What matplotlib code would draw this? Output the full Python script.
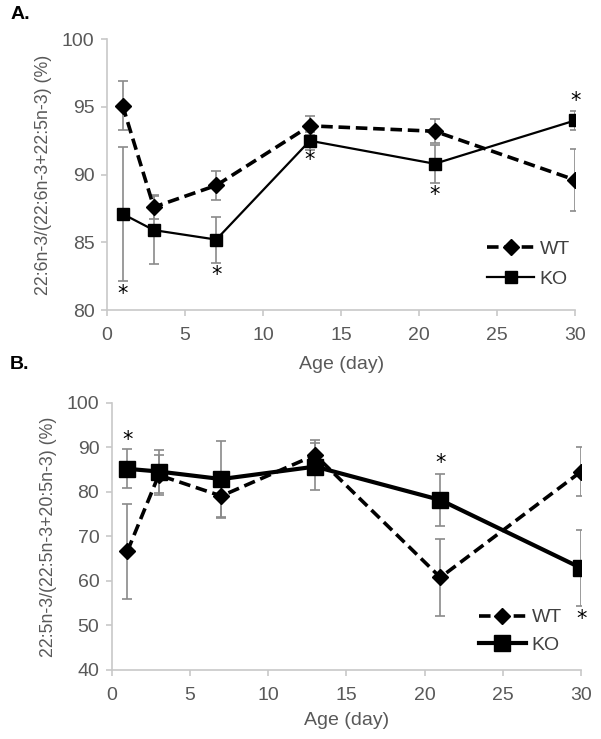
import numpy as np
import matplotlib.pyplot as plt

plt.rcParams['font.family'] = ['Liberation Sans', 'DejaVu Sans']

# Datos
days = [1, 3, 7, 13, 21, 30]

wt_a = [95.1, 87.6, 89.2, 93.6, 93.2, 89.6]
wt_a_err = [1.8, 0.9, 1.05, 0.7, 0.9, 2.3]
ko_a = [87.1, 85.9, 85.2, 92.5, 90.8, 94.0]
ko_a_err = [4.95, 2.5, 1.7, 0.65, 1.4, 0.7]
star_a_x = [1, 7, 13, 21, 30]
star_a_y = [81.2, 82.6, 91.1, 88.5, 95.4]

wt_b = [66.7, 83.8, 79.1, 88.3, 60.8, 84.6]
wt_b_err = [10.7, 4.5, 4.9, 3.4, 8.6, 5.4]
ko_b = [85.2, 84.6, 82.9, 85.7, 78.2, 62.9]
ko_b_err = [4.4, 4.8, 8.6, 5.2, 5.8, 8.6]
star_b_x = [1, 21, 30]
star_b_y = [91.7, 86.4, 51.4]

gris = '#595959'
eje = '#c8c8c8'
err_col = '#8a8a8a'

fig = plt.figure(figsize=(6.01, 7.39), dpi=100)
ax1 = fig.add_axes([0.178, 0.5805, 0.779, 0.3665])
ax2 = fig.add_axes([0.186, 0.0934, 0.781, 0.3613])


def estilo(ax, ylim, ystep, lpad):
    ax.set_xlim(0, 30)
    ax.set_ylim(*ylim)
    ax.set_xticks(np.arange(0, 31, 5))
    ax.set_yticks(np.arange(ylim[0], ylim[1] + 1, ystep))
    for s in ['top', 'right']:
        ax.spines[s].set_visible(False)
    for s in ['left', 'bottom']:
        ax.spines[s].set_color(eje)
        ax.spines[s].set_linewidth(1.2)
    ax.tick_params(colors=eje, labelcolor=gris, labelsize=14, length=4, width=1.2)
    ax.tick_params(axis='x', pad=8)
    ax.tick_params(axis='y', pad=5)
    ax.set_xlabel('Age (day)', fontsize=14, color=gris, labelpad=lpad)
    ax.patch.set_alpha(0)


# Panel A
wa = ax1.errorbar(days, wt_a, yerr=wt_a_err, color='black', ls=(0, (3.2, 1.6)), lw=2.6,
                  marker='D', ms=8, ecolor=err_col, elinewidth=1.2, capsize=3.5, capthick=1.2,
                  label='WT', zorder=3)
ka = ax1.errorbar(days, ko_a, yerr=ko_a_err, color='black', ls='-', lw=1.6,
                  marker='s', ms=8, ecolor=err_col, elinewidth=1.2, capsize=3.5, capthick=1.2,
                  label='KO', zorder=3)
for x, y in zip(star_a_x, star_a_y):
    ax1.text(x, y, '*', ha='center', va='center', fontsize=15, family='DejaVu Sans')
estilo(ax1, (80, 100), 5, 9)
ax1.set_ylabel('22:6n-3/(22:6n-3+22:5n-3) (%)', fontsize=12.8, color=gris, labelpad=7)
ax1.legend(handles=[wa[0], ka[0]], labels=['WT', 'KO'], loc='center left',
           bbox_to_anchor=(0.775, 0.17), frameon=False, fontsize=14,
           handlelength=2.4, handletextpad=0.3, labelspacing=0.65, labelcolor='#404040')

# Panel B
wb = ax2.errorbar(days, wt_b, yerr=wt_b_err, color='black', ls=(0, (3.2, 1.6)), lw=2.6,
                  marker='D', ms=8, ecolor=err_col, elinewidth=1.2, capsize=3.5, capthick=1.2,
                  label='WT', zorder=3)
kb = ax2.errorbar(days, ko_b, yerr=ko_b_err, color='black', ls='-', lw=3,
                  marker='s', ms=11, ecolor=err_col, elinewidth=1.2, capsize=3.5, capthick=1.2,
                  label='KO', zorder=3)
for x, y in zip(star_b_x, star_b_y):
    ax2.text(x, y, '*', ha='center', va='center', fontsize=15, family='DejaVu Sans')
estilo(ax2, (40, 100), 10, 6)
ax2.set_ylabel('22:5n-3/(22:5n-3+20:5n-3) (%)', fontsize=12.8, color=gris, labelpad=7)
ax2.legend(handles=[wb[0], kb[0]], labels=['WT', 'KO'], loc='center left',
           bbox_to_anchor=(0.745, 0.145), frameon=False, fontsize=14,
           handlelength=2.4, handletextpad=0.3, labelspacing=0.5, labelcolor='#404040')

fig.text(0.017, 0.98, 'A.', fontsize=14, fontweight='bold', va='center')
fig.text(0.017, 0.507, 'B.', fontsize=14, fontweight='bold', va='center')

fig.savefig('out.png', dpi=100, facecolor='white')
